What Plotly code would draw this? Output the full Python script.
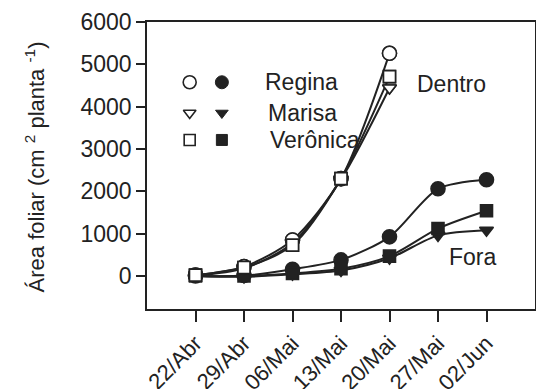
import plotly.graph_objects as go

dates = ["22/Abr", "29/Abr", "06/Mai", "13/Mai", "20/Mai", "27/Mai", "02/Jun"]
x_idx = list(range(len(dates)))

# Dentro (5 dates)
dentro_regina = [20, 220, 850, 2300, 5260]
dentro_marisa = [10, 180, 780, 2280, 4440]
dentro_veronica = [20, 200, 730, 2300, 4710]
# Fora (7 dates)
fora_regina = [0, 10, 160, 380, 925, 2060, 2275]
fora_marisa = [0, -20, 40, 130, 420, 960, 1080]
fora_veronica = [0, 0, 60, 170, 470, 1120, 1540]

y_ticks = [0, 1000, 2000, 3000, 4000, 5000, 6000]
cultivars = ["Regina", "Marisa", "Verônica"]
symbols = ["circle", "triangle-down", "square"]
sizes = [14, 12, 12]

INK = "#222222"
FONT = "Liberation Sans, Arial, sans-serif"

fig = go.Figure()

series = [
    (fora_regina, 0, False),
    (fora_marisa, 1, False),
    (fora_veronica, 2, False),
    (dentro_regina, 0, True),
    (dentro_marisa, 1, True),
    (dentro_veronica, 2, True),
]
for vals, k, is_open in series:
    fig.add_trace(go.Scatter(
        x=x_idx[:len(vals)], y=vals, mode="lines+markers",
        line=dict(color=INK, width=2, shape="spline", smoothing=0.8),
        marker=dict(symbol=symbols[k], size=sizes[k], color=INK,
                    line=dict(color=INK, width=1.6)),
        showlegend=False, cliponaxis=False,
    ))
# white-filled open markers for the "Dentro" series
for vals, k, is_open in series:
    if is_open:
        fig.add_trace(go.Scatter(
            x=x_idx[:len(vals)], y=vals, mode="markers",
            marker=dict(symbol=symbols[k], size=sizes[k], color="white",
                        line=dict(color=INK, width=1.6)),
            showlegend=False, cliponaxis=False,
        ))

# legend keys on an overlay axis in paper-like units
leg_y = [0.79, 0.683, 0.589]
for k in range(3):
    fig.add_trace(go.Scatter(
        x=[0.11], y=[leg_y[k]], mode="markers", xaxis="x2", yaxis="y2",
        marker=dict(symbol=symbols[k], size=sizes[k] - 1, color="white",
                    line=dict(color=INK, width=1.6)),
        showlegend=False))
    fig.add_trace(go.Scatter(
        x=[0.193], y=[leg_y[k]], mode="markers", xaxis="x2", yaxis="y2",
        marker=dict(symbol=symbols[k], size=sizes[k] - 1, color=INK,
                    line=dict(color=INK, width=1)),
        showlegend=False))

leg_tx = [0.298, 0.306, 0.311]
ann = []
for k in range(3):
    ann.append(dict(x=leg_tx[k], y=leg_y[k], xref="paper", yref="paper",
                    text=cultivars[k], showarrow=False, xanchor="left",
                    yanchor="middle", font=dict(size=23, color=INK, family=FONT)))
ann.append(dict(x=0.69, y=0.784, xref="paper", yref="paper", text="Dentro",
                showarrow=False, xanchor="left", yanchor="middle",
                font=dict(size=23, color=INK, family=FONT)))
ann.append(dict(x=0.774, y=0.181, xref="paper", yref="paper", text="Fora",
                showarrow=False, xanchor="left", yanchor="middle",
                font=dict(size=23, color=INK, family=FONT)))
ann.append(dict(x=-0.29, y=0.495, xref="paper", yref="paper",
                text="Área foliar (cm <sup>2</sup> planta <sup>-1</sup>)",
                textangle=-90, showarrow=False, xanchor="center", yanchor="middle",
                font=dict(size=22, color=INK, family=FONT)))

fig.update_layout(
    width=536, height=389,
    margin=dict(l=147, r=1, t=22, b=80),
    paper_bgcolor="white", plot_bgcolor="white",
    font=dict(family=FONT, color=INK, size=22),
    annotations=ann,
    xaxis=dict(range=[-1, 7], tickvals=x_idx, ticktext=dates, tickangle=-45,
               showline=True, linecolor=INK, linewidth=1.5, mirror=True,
               ticks="outside", ticklen=11, tickwidth=1.5, tickcolor=INK,
               showgrid=False, zeroline=False, automargin=False,
               tickfont=dict(size=22, family=FONT, color=INK)),
    yaxis=dict(range=[-780, 6000], tickvals=y_ticks, showline=True, linecolor=INK,
               linewidth=1.5, mirror=True, ticks="outside", ticklen=9, tickwidth=1.5,
               tickcolor=INK, showgrid=False, zeroline=False, automargin=False,
               tickfont=dict(size=23, family=FONT, color=INK)),
    xaxis2=dict(range=[0, 1], overlaying="x", visible=False, fixedrange=True),
    yaxis2=dict(range=[0, 1], overlaying="y", visible=False, fixedrange=True),
)

fig.write_html("out.html")
